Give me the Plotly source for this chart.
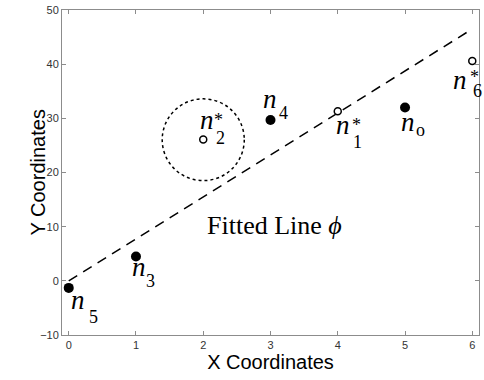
import plotly.graph_objects as go

# ---- data ----
filled_x = [5, 3, 1, 0]
filled_y = [32.0, 29.7, 4.5, -1.3]
filled_sub = ["o", "4", "3", "5"]

open_x = [4, 2, 6]
open_y = [31.3, 26.1, 40.6]
open_sub = ["1", "2", "6"]

line_x = [0, 6]
line_y = [0, 46.5]

circle_center = (2.0, 26.05)
circle_radius = (0.61, 7.55)

x_ticks = [0, 1, 2, 3, 4, 5, 6]
y_ticks = [-10, 0, 10, 20, 30, 40, 50]

fit_label = "Fitted Line <i>ϕ</i>"
fit_label_pos = (2.02, 10.2)

x_title = "X Coordinates"
y_title = "Y Coordinates"

# ---- label offsets (pixels, screen: +x right, +y down) ----
# (n dx, n dy, sub dx, sub dy)
filled_off = [(3, 17, 15, 24), (-1, -18, 13, -7), (3, 14, 15, 24.5), (9.5, 15, 24.5, 29)]
# (n dx, n dy, star dx, star dy, sub dx, sub dy)
open_off = [(5, 17, 19, 10, 20, 31), (3.5, -16, 15, -23, 17, -1), (-12, 22, 2, 12, 5, 30)]

SERIF = "Liberation Serif"
SANS = "Liberation Sans"
N_SIZE = 27
SUB_SIZE = 18

fig = go.Figure()

fig.add_trace(go.Scatter(
    x=line_x, y=line_y, mode="lines",
    line=dict(color="black", width=1.5, dash="10px,7px"),
    showlegend=False, hoverinfo="skip"))

fig.add_trace(go.Scatter(
    x=filled_x, y=filled_y, mode="markers",
    marker=dict(color="black", size=10, line=dict(width=0)),
    showlegend=False, cliponaxis=False))

fig.add_trace(go.Scatter(
    x=open_x, y=open_y, mode="markers",
    marker=dict(color="white", size=7, line=dict(color="black", width=1.5)),
    showlegend=False, cliponaxis=False))

cx, cy = circle_center
rx, ry = circle_radius
fig.add_shape(type="circle", xref="x", yref="y",
              x0=cx - rx, x1=cx + rx, y0=cy - ry, y1=cy + ry,
              line=dict(color="black", width=1.5, dash="dot"))

ann = []


def add_txt(x, y, text, dx, dy, size, italic=False, corr=0.0):
    t = f"<i>{text}</i>" if italic else text
    ann.append(dict(x=x, y=y, xref="x", yref="y", text=t, showarrow=False,
                    xanchor="center", yanchor="middle",
                    xshift=dx, yshift=-dy + corr,
                    font=dict(family=SERIF, size=size, color="black")))


for x, y, s, o in zip(filled_x, filled_y, filled_sub, filled_off):
    add_txt(x, y, "n", o[0], o[1], N_SIZE, italic=True, corr=3)
    add_txt(x, y, s, o[2], o[3], SUB_SIZE, corr=2 if s == "o" else 0)

for x, y, s, o in zip(open_x, open_y, open_sub, open_off):
    add_txt(x, y, "n", o[0], o[1], N_SIZE, italic=True, corr=3)
    add_txt(x, y, "*", o[2], o[3], SUB_SIZE, corr=-4)
    add_txt(x, y, s, o[4], o[5], SUB_SIZE)

ann.append(dict(x=fit_label_pos[0], y=fit_label_pos[1], xref="x", yref="y",
                text=fit_label, showarrow=False, xanchor="left", yanchor="middle",
                font=dict(family=SERIF, size=26, color="black")))

# Y axis title as annotation (sits closer to axis than standoff allows)
ann.append(dict(x=0, y=0.5, xref="paper", yref="paper", text=y_title,
                showarrow=False, textangle=-90, xanchor="center", yanchor="middle",
                xshift=-25, font=dict(family=SANS, size=20, color="black")))

axis_common = dict(
    showgrid=False, zeroline=False, showline=True, mirror="ticks",
    linecolor="#8c8c8c", linewidth=1, ticks="inside", ticklen=4,
    tickcolor="#8c8c8c", tickfont=dict(family=SANS, size=11, color="#333333"),
    ticklabeloverflow="allow",
)

fig.update_layout(
    width=484, height=380,
    margin=dict(l=62, r=4, t=5, b=45),
    paper_bgcolor="white", plot_bgcolor="white",
    annotations=ann,
    xaxis=dict(range=[-0.1, 6.1], tickvals=x_ticks,
               title=dict(text=x_title, standoff=2,
                          font=dict(family=SANS, size=20, color="black")),
               **axis_common),
    yaxis=dict(range=[-10, 50], tickvals=y_ticks, **axis_common),
)

fig.write_html("out.html",
               config={"displayModeBar": False},
               post_script="document.body.style.margin='0';document.body.style.overflow='hidden';")
